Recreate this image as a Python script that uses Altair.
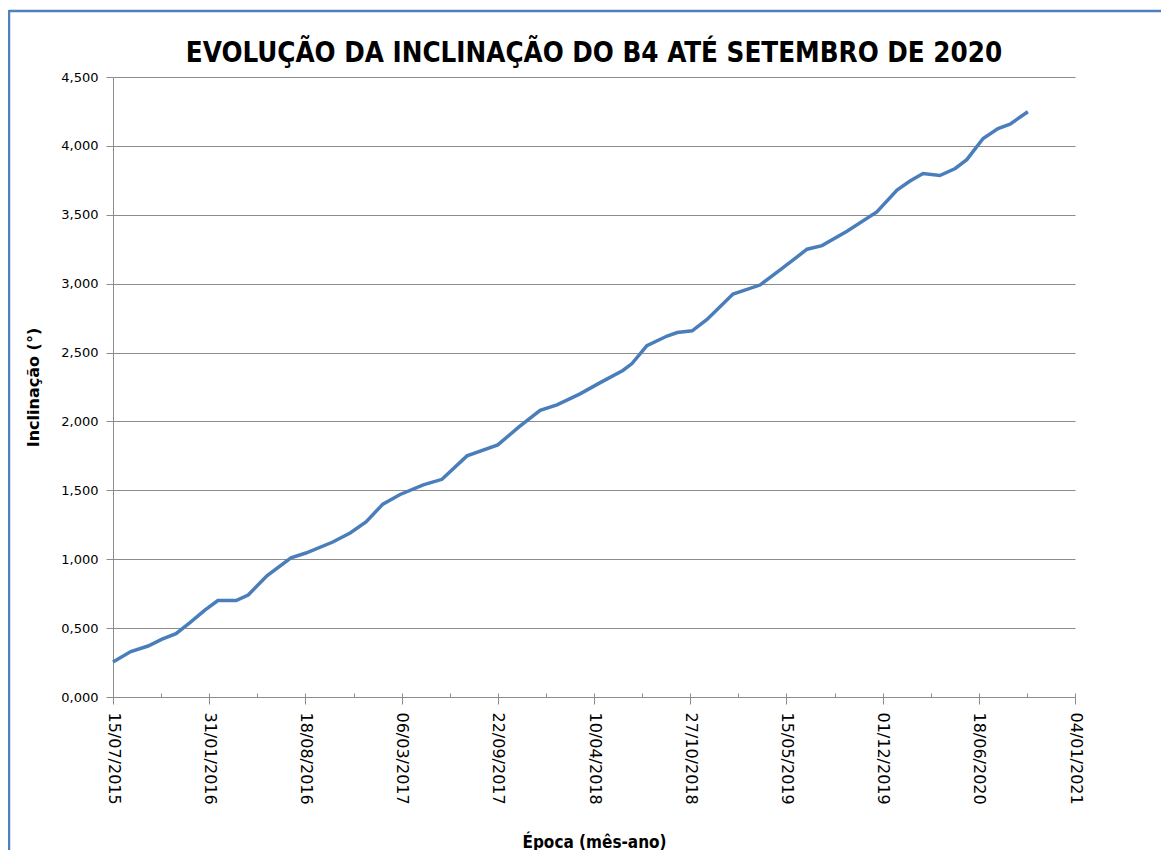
import altair as alt
import pandas as pd

# ---- data ----
dates = ["2015/07/15", "2015/08/21", "2015/09/26", "2015/10/25", "2015/11/23",
         "2015/12/22", "2016/01/22", "2016/02/18", "2016/03/27", "2016/04/21",
         "2016/05/30", "2016/07/19", "2016/08/19", "2016/10/14", "2016/11/19",
         "2016/12/22", "2017/01/26", "2017/03/03", "2017/04/20", "2017/05/29",
         "2017/07/20", "2017/09/22", "2017/11/05", "2017/12/19", "2018/01/23",
         "2018/03/12", "2018/04/22", "2018/06/09", "2018/06/28", "2018/07/29",
         "2018/09/09", "2018/09/30", "2018/10/31", "2018/12/01", "2019/01/24",
         "2019/03/21", "2019/05/02", "2019/06/27", "2019/07/28", "2019/09/18",
         "2019/11/19", "2019/12/31", "2020/01/27", "2020/02/23", "2020/03/29",
         "2020/04/30", "2020/05/24", "2020/06/27", "2020/07/28", "2020/08/22",
         "2020/09/28"]
inclinacao = [0.254, 0.33, 0.37, 0.42, 0.46,
              0.54, 0.63, 0.70, 0.70, 0.74,
              0.88, 1.01, 1.045, 1.125, 1.19,
              1.27, 1.40, 1.47, 1.54, 1.58,
              1.75, 1.83, 1.96, 2.08, 2.12,
              2.20, 2.28, 2.37, 2.42, 2.55,
              2.62, 2.645, 2.658, 2.74, 2.925,
              2.99, 3.10, 3.25, 3.276, 3.38,
              3.52, 3.68, 3.745, 3.80, 3.785,
              3.836, 3.90, 4.054, 4.126, 4.158,
              4.248]

# major x ticks (every 200 days) and minor ticks (in between)
major_ticks = [(2015, 7, 15), (2016, 1, 31), (2016, 8, 18), (2017, 3, 6),
               (2017, 9, 22), (2018, 4, 10), (2018, 10, 27), (2019, 5, 15),
               (2019, 12, 1), (2020, 6, 18), (2021, 1, 4)]
minor_ticks = [(2015, 7, 15), (2015, 10, 23), (2016, 1, 31), (2016, 5, 10),
               (2016, 8, 18), (2016, 11, 26), (2017, 3, 6), (2017, 6, 14),
               (2017, 9, 22), (2017, 12, 31), (2018, 4, 10), (2018, 7, 19),
               (2018, 10, 27), (2019, 2, 4), (2019, 5, 15), (2019, 8, 23),
               (2019, 12, 1), (2020, 3, 10), (2020, 6, 18), (2020, 9, 26),
               (2021, 1, 4)]
y_ticks = [0, 0.5, 1.0, 1.5, 2.0, 2.5, 3.0, 3.5, 4.0, 4.5]

TITLE = "EVOLUÇÃO DA INCLINAÇÃO DO B4 ATÉ SETEMBRO DE 2020"
X_TITLE = "Época (mês-ano)"
Y_TITLE = "Inclinação (°)"

df = pd.DataFrame({"data": dates, "valor": inclinacao})


def dt(t):
    return alt.DateTime(year=t[0], month=t[1], date=t[2])


x_domain = [dt(major_ticks[0]), dt(major_ticks[-1])]
GRAY = "#8c8c8c"
NARROW = "DejaVu Sans Condensed, DejaVu Sans, sans-serif"
W, H = 962, 620

x_scale = alt.Scale(domain=x_domain, nice=False)
y_scale = alt.Scale(domain=[0, 4.5], nice=False, zero=True)

line = alt.Chart(df).mark_line(color="#4A7EBB", strokeWidth=3.5).encode(
    x=alt.X("data:T", scale=x_scale,
            axis=alt.Axis(values=[dt(t) for t in major_ticks], format="%d/%m/%Y",
                          labelAngle=90, labelAlign="left", labelBaseline="middle",
                          labelFont="DejaVu Sans", labelFontSize=16, labelColor="black",
                          labelPadding=8, tickSize=7, tickColor=GRAY, domainColor=GRAY,
                          grid=False, labelOverlap=False,
                          title=X_TITLE, titleFont=NARROW,
                          titleFontSize=17, titleFontWeight="bold", titleColor="black",
                          titleX=W / 2, titleY=150, titleAlign="center",
                          titleBaseline="alphabetic", titleAngle=0)),
    y=alt.Y("valor:Q", scale=y_scale,
            axis=alt.Axis(values=y_ticks,
                          labelExpr="replace(format(datum.value, '.3f'), '.', ',')",
                          labelFont="DejaVu Sans", labelFontSize=13, labelColor="black",
                          labelPadding=8, tickSize=7, tickColor=GRAY, domainColor=GRAY,
                          grid=True, gridColor=GRAY, gridWidth=1,
                          title=Y_TITLE, titleFont="DejaVu Sans", titleFontSize=16,
                          titleFontWeight="bold", titleColor="black",
                          titleAngle=-90, titleX=-80, titleY=H / 2,
                          titleAlign="center", titleBaseline="middle")),
)

minor = alt.Chart(df).mark_point(opacity=0).encode(
    x=alt.X("data:T", scale=x_scale,
            axis=alt.Axis(orient="top", offset=-H, values=[dt(t) for t in minor_ticks],
                          labels=False, domain=False, grid=False, tickSize=4,
                          tickColor=GRAY, title=None)),
    y=alt.Y("valor:Q", scale=y_scale, axis=None),
)

frame_df = pd.DataFrame({"k": [0]})
frame_top = alt.Chart(frame_df).mark_rule(color="#4F81BD", strokeWidth=2.5).encode(
    x=alt.value(-104), x2=alt.value(1100), y=alt.value(-66))
frame_left = alt.Chart(frame_df).mark_rule(color="#4F81BD", strokeWidth=2.5).encode(
    x=alt.value(-104), y=alt.value(-67), y2=alt.value(800))

chart = alt.layer(line, minor, frame_top, frame_left).resolve_axis(
    x="independent", y="independent"
).properties(
    width=W, height=H,
    padding={"left": 105, "top": 69, "right": 86, "bottom": 153},
    autosize=alt.AutoSizeParams(type="none"),
    background="white",
    title=alt.TitleParams(text=TITLE, font=NARROW, fontSize=27.5,
                          fontWeight="bold", color="black", anchor="middle",
                          frame="group", baseline="alphabetic", offset=10, dy=91),
).configure_view(stroke=None)

chart.save("out.html", embed_options={"renderer": "svg", "actions": False})
